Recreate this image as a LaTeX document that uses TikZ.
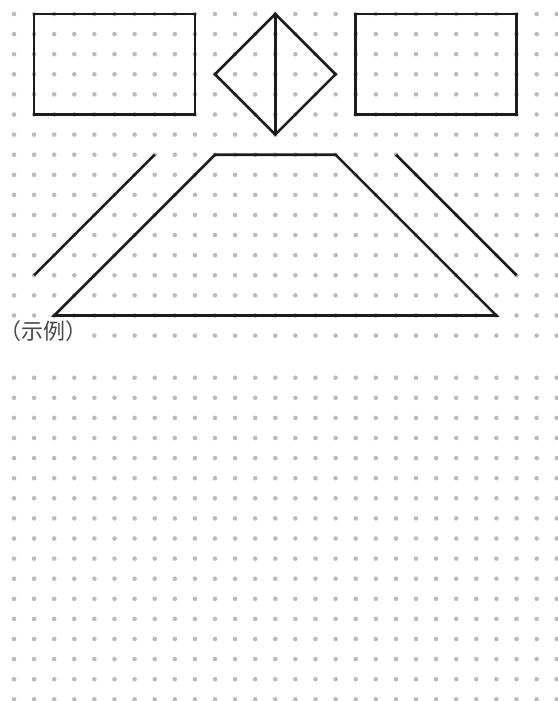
\documentclass[tikz,border=0pt]{standalone}
\usepackage{fontspec}
\newfontfamily\cjk{Noto Sans CJK SC}
\definecolor{dotgray}{RGB}{186,186,193}
\definecolor{ink}{RGB}{28,28,28}
\begin{document}
\begin{tikzpicture}[x=1pt,y=-1pt,
  griddot/.style={fill=dotgray},
  figline/.style={draw=ink,line width=2.6pt,line join=miter,line cap=butt},
  caption/.style={anchor=base west,inner sep=0pt,font=\cjk\fontsize{22}{22}\selectfont,text=black!72}]
\useasboundingbox (0,0) rectangle (557,701);
% upper dot grid
\begin{scope}[shift={(14,14)},x=20.1pt,y=-20.1pt]
  \foreach \i in {0,...,27}{
    \foreach \j in {0,...,16}{
      \pgfmathtruncatemacro\skip{(\j==16 && \i<4) ? 1 : 0}
      \ifnum\skip=0
        \fill[griddot] (\i,\j) circle[radius=2.3pt];
      \fi
    }
  }
  % figures
  \coordinate (r1a) at (1,0);  \coordinate (r1b) at (9,5);
  \coordinate (r2a) at (17,0); \coordinate (r2b) at (25,5);
  \coordinate (dT) at (13,0); \coordinate (dR) at (16,3);
  \coordinate (dB) at (13,6); \coordinate (dL) at (10,3);
  \coordinate (tTL) at (10,7); \coordinate (tTR) at (16,7);
  \coordinate (tBR) at (24,15); \coordinate (tBL) at (2,15);
  \coordinate (l1a) at (7,7); \coordinate (l1b) at (1,13);
  \coordinate (l2a) at (19,7); \coordinate (l2b) at (25,13);
  \draw[figline] (r1a) rectangle (r1b);
  \draw[figline] (r2a) rectangle (r2b);
  \draw[figline] (dT) -- (dR) -- (dB) -- (dL) -- cycle;
  \draw[figline] (dT) -- (dB);
  \draw[figline] (tTL) -- (tTR) -- (tBR) -- (tBL) -- cycle;
  \draw[figline] (l1a) -- (l1b);
  \draw[figline] (l2a) -- (l2b);
\end{scope}
% lower dot grid
\begin{scope}[shift={(14,377.7)},x=20.1pt,y=-20.1pt]
  \foreach \i in {0,...,27}{
    \foreach \j in {0,...,16}{
      \fill[griddot] (\i,\j) circle[radius=2.3pt];
    }
  }
\end{scope}
\node[caption] (cap) at (-1,339.5) {（示例）};
\end{tikzpicture}
\end{document}
